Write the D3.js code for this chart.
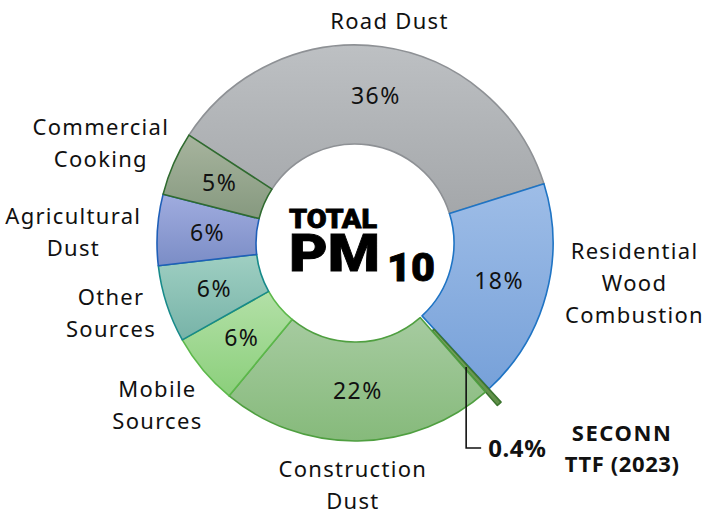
<!DOCTYPE html>
<html>
<head>
<meta charset="utf-8">
<script src="https://cdn.jsdelivr.net/npm/d3@7"></script>
<style>
  html, body { margin: 0; padding: 0; background: #ffffff; }
  svg { display: block; }
</style>
</head>
<body>
<div id="chart"></div>
<script>
// ---------- DATA ----------
const categories = ["Road Dust", "Residential Wood Combustion", "SECONN TTF (2023)", "Construction Dust",
                    "Mobile Sources", "Other Sources", "Agricultural Dust", "Commercial Cooking"];
const shares = [36.0, 18.0, 0.4, 22.4, 5.9, 6.3, 5.8, 5.2];
const labelLines = [["Road Dust"], ["Residential", "Wood", "Combustion"], ["SECONN", "TTF (2023)"],
                    ["Construction", "Dust"], ["Mobile", "Sources"], ["Other", "Sources"],
                    ["Agricultural", "Dust"], ["Commercial", "Cooking"]];
const pctLabels = ["36%", "18%", "0.4%", "22%", "6%", "6%", "6%", "5%"];
const centerTitle = ["TOTAL", "PM", "10"];

// ---------- STYLES ----------
const fillTop    = ["#bdc0c3", "#9ebde7", "#7aa661", "#a6cba0", "#b3e0a7", "#9fcfc2", "#a0acdf", "#a7b49e"];
const fillBottom = ["#a4a7aa", "#77a1d9", "#5f8f47", "#86ba7b", "#8bcf7b", "#77b3a8", "#7b8dc6", "#86997f"];
const strokeCol  = ["#8e9195", "#1f74c4", "#3d7530", "#4f9f40", "#5cb84a", "#178a8a", "#1f5fb8", "#2f6b2f"];
const labelNudge = [[-3, 4], [7, -27], [0, 0], [-7, -2], [-1, 5], [0, -5], [-3, 5], [2, -2]];

const W = 706, H = 514;
const cx = 355, cy = 243, R = 198, r0 = 99;
const explodeIdx = 2, explode = 18;
const fontFam = "'Noto Sans', 'Open Sans', sans-serif";
const catSpacing = 1.3, pctSpacing = 1.5;

const svg = d3.select("#chart").append("svg").attr("width", W).attr("height", H);
const defs = svg.append("defs");
fillTop.forEach((c, i) => {
  const g = defs.append("linearGradient").attr("id", "g" + i)
    .attr("x1", 0).attr("y1", 0).attr("x2", 0).attr("y2", 1);
  g.append("stop").attr("offset", "0%").attr("stop-color", c);
  g.append("stop").attr("offset", "100%").attr("stop-color", fillBottom[i]);
});

const start = -57 * Math.PI / 180;
const pie = d3.pie().sort(null).value(d => d).startAngle(start).endAngle(start + 2 * Math.PI);
const arcs = pie(shares);
const arc = d3.arc().innerRadius(r0).outerRadius(R);

const root = svg.append("g").attr("transform", `translate(${cx},${cy})`);

const off = d => {
  const m = (d.startAngle + d.endAngle) / 2;
  return d.index === explodeIdx ? [Math.sin(m) * explode, -Math.cos(m) * explode] : [0, 0];
};

root.selectAll("path.slice").data(arcs).join("path")
  .attr("class", "slice")
  .attr("d", arc)
  .attr("transform", d => `translate(${off(d)[0]},${off(d)[1]})`)
  .attr("fill", (d, i) => `url(#g${i})`)
  .attr("stroke", (d, i) => strokeCol[i])
  .attr("stroke-width", 1.6)
  .attr("stroke-linejoin", "round");

// percentage labels inside slices
root.selectAll("text.pct").data(arcs.filter(d => d.index !== explodeIdx)).join("text")
  .attr("class", "pct")
  .attr("x", d => arc.centroid(d)[0] + pctSpacing / 2)
  .attr("y", d => arc.centroid(d)[1] + 8)
  .attr("text-anchor", "middle")
  .attr("font-family", fontFam)
  .attr("font-size", 23)
  .attr("letter-spacing", pctSpacing)
  .attr("fill", "#111")
  .text(d => pctLabels[d.index]);

// category labels outside
const gap = 14, lineH = 32;
arcs.forEach(d => {
  if (d.index === explodeIdx) return;
  const lines = labelLines[d.index];
  const m = (d.startAngle + d.endAngle) / 2;
  const s = Math.sin(m), c = Math.cos(m);
  const t = root.append("text")
    .attr("text-anchor", "middle")
    .attr("font-family", fontFam)
    .attr("font-size", 22)
    .attr("letter-spacing", catSpacing)
    .attr("fill", "#111");
  lines.forEach(l => t.append("tspan").text(l));
  const w = d3.max(t.selectAll("tspan").nodes(), n => n.getComputedTextLength());
  const h = lines.length * lineH;
  const px = s * (R + gap), py = -c * (R + gap);
  const ccx = px + s * w / 2 + labelNudge[d.index][0];
  const ccy = py - c * h / 2 + labelNudge[d.index][1];
  t.selectAll("tspan")
    .attr("x", ccx + catSpacing / 2)
    .attr("y", (l, j) => ccy + (j - (lines.length - 1) / 2) * lineH + 8);
});

// leader and label for the exploded SECONN slice
const ex = arcs[explodeIdx];
const ec = arc.centroid(ex), eo = off(ex);
const lx = ec[0] + eo[0], ly = ec[1] + eo[1];
const leaderEnd = [lx + 15, ly + 81];
root.append("path")
  .attr("d", `M${lx},${ly}V${leaderEnd[1]}H${leaderEnd[0]}`)
  .attr("fill", "none").attr("stroke", "#111").attr("stroke-width", 1.6);
root.append("text")
  .attr("x", leaderEnd[0] + 7).attr("y", leaderEnd[1] + 9.5)
  .attr("font-family", fontFam).attr("font-weight", 700).attr("font-size", 24)
  .attr("letter-spacing", 0.6)
  .attr("fill", "#111")
  .text(pctLabels[explodeIdx]);
const seSpacing = [1.6, 0.6];
const st = root.append("text")
  .attr("text-anchor", "middle")
  .attr("font-family", fontFam).attr("font-weight", 700).attr("font-size", 22)
  .attr("fill", "#111");
labelLines[explodeIdx].forEach((l, j) => {
  st.append("tspan").attr("x", leaderEnd[0] + 141).attr("y", leaderEnd[1] - 7 + j * 31)
    .attr("letter-spacing", seSpacing[j]).text(l);
});

// center title
const ct = root.append("g").attr("font-family", "Roboto, 'Liberation Sans', sans-serif")
  .attr("font-weight", 900).attr("fill", "#000").attr("stroke", "#000").attr("stroke-width", 0.8);
ct.append("text").attr("x", -66).attr("y", -15).attr("font-size", 26)
  .attr("textLength", 88).attr("lengthAdjust", "spacingAndGlyphs").text(centerTitle[0]);
ct.append("text").attr("x", -66).attr("y", 28).attr("font-size", 52)
  .attr("textLength", 91).attr("lengthAdjust", "spacingAndGlyphs").text(centerTitle[1]);
ct.append("text").attr("x", 32).attr("y", 38).attr("font-size", 38)
  .attr("textLength", 48).attr("lengthAdjust", "spacingAndGlyphs").text(centerTitle[2]);
</script>
</body>
</html>
